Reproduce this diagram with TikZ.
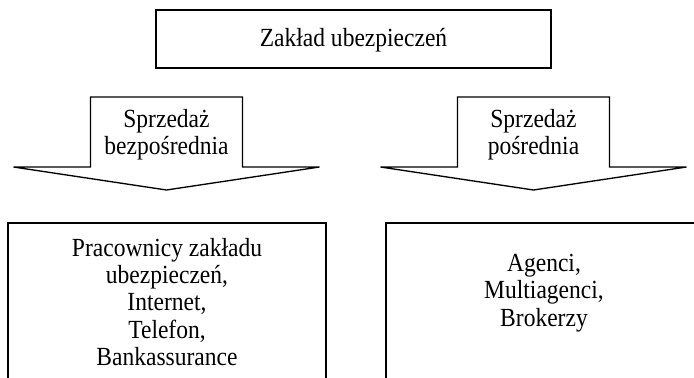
\documentclass[tikz,border=0pt]{standalone}
\usepackage{fontspec}
\setmainfont{Liberation Serif}[FakeStretch=0.9]
\usetikzlibrary{calc}
\tikzset{
	outline/.style={line width=1pt, line join=miter},
	txt/.style={align=center, inner sep=0pt, font=\fontsize{19.6}{20.5}\selectfont}
}
% block arrow pointing down, centred at x = #1
\def\salesarrow[#1](#2){\draw[#1] ({#2-76},97) -- ({#2+76},97) -- ({#2+76},167) -- ({#2+153},167) -- (#2,190) -- ({#2-153},167) -- ({#2-76},167) -- cycle;}

\begin{document}
\begin{tikzpicture}[x=0.75pt, y=-0.75pt]
		%%%%% START %%%%%
		\useasboundingbox (0,0) rectangle (694,378);
		\clip (0,0) rectangle (694,378);
		\fill[white] (0,0) rectangle (694,378);
		
		\draw[outline] (156,10) rectangle (551,68);
		\node[txt] (zaklad) at (353.5,40) {Zakład ubezpieczeń};
		
		\salesarrow[outline](166.5);
		\node[txt] (bezposr) at (166.5,135) {Sprzedaż\\bezpośrednia};
		
		\salesarrow[outline](533.5);
		\node[txt] (posr) at (533.5,135) {Sprzedaż\\pośrednia};
		
		\draw[outline] (8,390) -- (8,223) -- (326,223) -- (326,390);
		\node[txt] (kanaly) at (167,302) {Pracownicy zakładu\\ubezpieczeń,\\Internet,\\Telefon,\\Bankassurance};
		
		\draw[outline] (386,390) -- (386,223) -- (702,223) -- (702,390);
		\node[txt] (posrednicy) at (544,293) {Agenci,\\Multiagenci,\\Brokerzy};
		%%%%% END %%%%%
	\end{tikzpicture}
\end{document}
